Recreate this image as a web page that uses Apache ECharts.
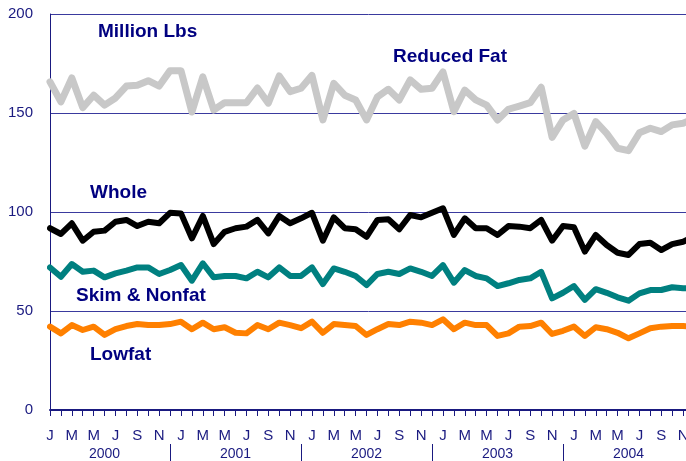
<!DOCTYPE html>
<html>
<head>
<meta charset="utf-8">
<script src="https://cdn.jsdelivr.net/npm/echarts@6/dist/echarts.min.js"></script>
<style>
  html, body { margin: 0; padding: 0; background: #fff; }
  #chart { width: 686px; height: 461px; }
</style>
</head>
<body>
<div id="chart"></div>
<script>
// 数据
var years = ['2000', '2001', '2002', '2003', '2004'];
var monthLetters = ['J', 'F', 'M', 'A', 'M', 'J', 'J', 'A', 'S', 'O', 'N', 'D'];

var reducedFat = [
  165.7, 155.6, 167.7, 152.7, 159.0, 154.0, 157.6, 163.6, 164.0, 166.3, 163.6, 171.4,
  171.4, 150.5, 168.3, 151.5, 155.2, 155.2, 155.2, 162.6, 155.0, 168.7, 160.8, 162.5,
  169.0, 146.5, 165.0, 159.0, 156.6, 146.5, 158.2, 162.0, 156.6, 166.7, 162.0, 162.5,
  170.8, 150.7, 161.6, 156.6, 154.0, 146.5, 151.9, 153.5, 155.2, 163.0, 137.7, 146.5,
  149.8, 133.3, 145.6, 139.7, 132.2, 131.0, 140.0, 142.3, 140.6, 144.0, 144.8, 147.3
];
var whole = [
  91.8, 88.9, 94.3, 85.5, 90.0, 90.6, 95.1, 96.0, 92.9, 95.1, 94.3, 99.6,
  99.3, 86.7, 98.0, 83.8, 90.0, 91.8, 92.6, 96.0, 89.2, 98.0, 94.3, 96.8,
  99.6, 85.5, 97.3, 91.8, 91.3, 87.5, 96.0, 96.3, 91.3, 98.5, 97.3, 99.6,
  101.9, 88.4, 96.8, 91.8, 91.8, 88.4, 92.9, 92.6, 91.8, 96.0, 85.5, 92.9,
  92.3, 80.0, 88.4, 83.3, 79.4, 78.3, 83.8, 84.5, 80.8, 83.8, 85.0, 87.5
];
var skimNonfat = [
  72.0, 67.3, 73.7, 69.8, 70.4, 67.0, 69.0, 70.4, 72.0, 72.0, 68.7, 70.7,
  73.2, 65.3, 74.1, 67.0, 67.7, 67.7, 66.5, 69.8, 67.0, 72.0, 67.7, 67.7,
  72.0, 63.6, 71.5, 69.8, 67.7, 63.1, 68.7, 69.8, 68.7, 71.5, 69.8, 67.7,
  73.2, 64.3, 70.7, 67.7, 66.5, 62.6, 64.0, 65.7, 66.5, 69.8, 56.4, 59.2,
  62.6, 55.6, 61.0, 59.2, 56.9, 55.2, 58.9, 60.6, 60.6, 62.0, 61.5, 61.5
];
var lowfat = [
  42.1, 38.7, 42.9, 40.4, 42.1, 37.9, 40.8, 42.4, 43.4, 42.9, 42.9, 43.4,
  44.6, 40.8, 44.1, 40.8, 41.8, 39.0, 38.7, 42.9, 40.8, 44.1, 42.9, 41.3,
  44.6, 39.0, 43.4, 42.9, 42.4, 37.9, 40.8, 43.4, 42.9, 44.6, 44.1, 42.9,
  45.8, 40.8, 44.1, 42.9, 42.9, 37.4, 38.7, 42.1, 42.4, 44.1, 38.4, 40.0,
  42.1, 37.4, 41.8, 40.8, 39.0, 36.2, 38.7, 41.3, 42.1, 42.4, 42.4, 42.1
];

// 月份类目 "2000-0" ... "2004-11"
var months = [];
years.forEach(function (y) {
  monthLetters.forEach(function (m, i) { months.push(y + '-' + i); });
});

var navy = '#1a1a80';
var gridColor = '#3a3a9e';
var titleFont = 'bold 19px "Liberation Sans", Arial';
var myChart = echarts.init(document.getElementById('chart'));

var option = {
  animation: false,
  backgroundColor: '#fff',
  // 图表右侧被裁掉一点（2004年12月在画布外）
  grid: { left: 50, width: 644, top: 14, height: 396, outerBoundsMode: 'none' },
  xAxis: [
    {
      type: 'category',
      data: months,
      boundaryGap: false,
      axisLine: { lineStyle: { color: navy, width: 2 } },
      axisTick: { show: true, interval: 0, length: 6, lineStyle: { color: navy } },
      axisLabel: {
        interval: 1,
        color: navy,
        fontFamily: 'Liberation Sans',
        fontSize: 15,
        margin: 18,
        formatter: function (v) { return monthLetters[+v.split('-')[1]]; }
      },
      splitLine: { show: false }
    },
    {
      type: 'category',
      data: months,
      boundaryGap: false,
      position: 'bottom',
      offset: 34,
      axisLine: { show: false },
      axisTick: {
        show: true,
        interval: function (i) { return i % 12 === 11 && i < 59; },
        length: 17,
        lineStyle: { color: navy }
      },
      axisLabel: {
        interval: function (i) { return i % 12 === 5; },
        color: navy,
        fontFamily: 'Liberation Sans',
        fontSize: 14,
        margin: 3,
        formatter: function (v) { return v.split('-')[0]; }
      },
      splitLine: { show: false }
    }
  ],
  yAxis: {
    type: 'value',
    min: 0,
    max: 200,
    interval: 50,
    axisLine: { show: true, lineStyle: { color: navy, width: 1 } },
    axisTick: { show: false },
    axisLabel: { color: navy, fontFamily: 'Liberation Sans', fontSize: 15, margin: 17, padding: [5, 0, 0, 0] },
    splitLine: { lineStyle: { color: gridColor, width: 1 } }
  },
  graphic: [
    { type: 'text', left: 98, top: 22, style: { text: 'Million Lbs', fill: '#000080', font: titleFont } },
    { type: 'text', left: 393, top: 47, style: { text: 'Reduced Fat', fill: '#000080', font: titleFont } },
    { type: 'text', left: 90, top: 183, style: { text: 'Whole', fill: '#000080', font: titleFont } },
    { type: 'text', left: 76, top: 286, style: { text: 'Skim & Nonfat', fill: '#000080', font: titleFont } },
    { type: 'text', left: 90, top: 345, style: { text: 'Lowfat', fill: '#000080', font: titleFont } }
  ],
  series: [
    { name: 'Reduced Fat', type: 'line', data: reducedFat, symbol: 'none', lineStyle: { color: '#c8c8c8', width: 7, join: 'round', cap: 'round' } },
    { name: 'Whole', type: 'line', data: whole, symbol: 'none', lineStyle: { color: '#000000', width: 6, join: 'round', cap: 'round' } },
    { name: 'Skim & Nonfat', type: 'line', data: skimNonfat, symbol: 'none', lineStyle: { color: '#008080', width: 6, join: 'round', cap: 'round' } },
    { name: 'Lowfat', type: 'line', data: lowfat, symbol: 'none', lineStyle: { color: '#ff8000', width: 6, join: 'round', cap: 'round' } }
  ]
};

myChart.setOption(option);
</script>
</body>
</html>
